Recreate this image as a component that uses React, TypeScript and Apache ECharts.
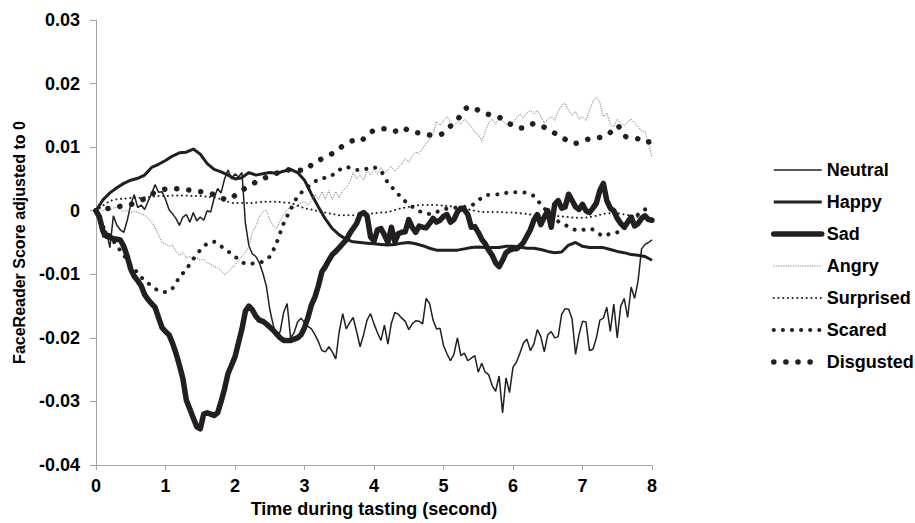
import React, { useEffect, useRef } from 'react';
import * as echarts from 'echarts';

const seriesNames = ['Neutral', 'Happy', 'Sad', 'Angry', 'Surprised', 'Scared', 'Disgusted'];

// sampling grids (seconds)
const fineTimes = Array.from({ length: 161 }, (_, i) => +(i * 0.05).toFixed(2));
const coarseTimes = Array.from({ length: 81 }, (_, i) => +(i * 0.1).toFixed(1));

const neutral = [
  0, -0.0015, -0.0042, -0.0032, -0.0058, -0.0008, -0.0023, -0.0030, -0.0034, -0.0015,
  0.0010, 0.0025, 0.0005, 0.0009, 0.0002, 0.0015, 0.0027, 0.0041, 0.0029, 0.0030,
  0.0018, 0.0002, -0.0005, -0.0012, -0.0023, -0.0010, -0.0006, -0.0018, -0.0003, -0.0016,
  -0.0010, -0.0015, 0.0000, -0.0002, 0.0020, 0.0035, 0.0028, 0.0050, 0.0064, 0.0050,
  0.0058, 0.0053, 0.0060, -0.0020, -0.0055, -0.0068, -0.0072, -0.0082, -0.0098, -0.0118,
  -0.0155, -0.0180, -0.0198, -0.0190, -0.0160, -0.0146, -0.0200, -0.0192, -0.0175, -0.0169,
  -0.0176, -0.0182, -0.0186, -0.0195, -0.0206, -0.0220, -0.0222, -0.0214, -0.0222, -0.0233,
  -0.0190, -0.0162, -0.0186, -0.0176, -0.0168, -0.0190, -0.0214, -0.0195, -0.0172, -0.0162,
  -0.0178, -0.0192, -0.0204, -0.0180, -0.0210, -0.0177, -0.0160, -0.0163, -0.0169, -0.0174,
  -0.0187, -0.0178, -0.0173, -0.0174, -0.0178, -0.0138, -0.0146, -0.0172, -0.0186, -0.0185,
  -0.0212, -0.0225, -0.0236, -0.0226, -0.0200, -0.0228, -0.0224, -0.0236, -0.0232, -0.0228,
  -0.0254, -0.0240, -0.0254, -0.0258, -0.0275, -0.0284, -0.0260, -0.0318, -0.0263, -0.0286,
  -0.0246, -0.0238, -0.0224, -0.0208, -0.0202, -0.0220, -0.0210, -0.0187, -0.0198, -0.0222,
  -0.0195, -0.0190, -0.0200, -0.0198, -0.0163, -0.0154, -0.0155, -0.0170, -0.0226, -0.0195,
  -0.0174, -0.0175, -0.0220, -0.0218, -0.0200, -0.0172, -0.0169, -0.0152, -0.0190, -0.0147,
  -0.0200, -0.0150, -0.0138, -0.0168, -0.0120, -0.0138, -0.0110, -0.0060, -0.0053, -0.0050,
  -0.0046,
];

const sad = [
  0, -0.0010, -0.0032, -0.0040, -0.0042, -0.0044, -0.0045, -0.0046, -0.0056, -0.0072,
  -0.0092, -0.0103, -0.0110, -0.0118, -0.0132, -0.0140, -0.0146, -0.0152, -0.0168, -0.0184,
  -0.0190, -0.0195, -0.0208, -0.0224, -0.0243, -0.0264, -0.0298, -0.0312, -0.0326, -0.0340,
  -0.0343, -0.0320, -0.0318, -0.0320, -0.0322, -0.0318, -0.0300, -0.0280, -0.0256, -0.0243,
  -0.0230, -0.0208, -0.0186, -0.0158, -0.0150, -0.0156, -0.0166, -0.0172, -0.0174, -0.0178,
  -0.0183, -0.0188, -0.0194, -0.0200, -0.0204, -0.0204, -0.0204, -0.0202, -0.0200, -0.0195,
  -0.0184, -0.0168, -0.0148, -0.0136, -0.0118, -0.0096, -0.0088, -0.0078, -0.0069, -0.0064,
  -0.0058, -0.0052, -0.0046, -0.0036, -0.0028, -0.0020, -0.0006, -0.0003, -0.0008, -0.0041,
  -0.0048, -0.0030, -0.0028, -0.0038, -0.0050, -0.0026, -0.0049, -0.0036, -0.0034, -0.0033,
  -0.0014, -0.0026, -0.0034, -0.0024, -0.0026, -0.0027, -0.0020, -0.0012, -0.0018, -0.0015,
  -0.0009, -0.0006, -0.0018, -0.0014, -0.0002, 0.0004, 0.0002, -0.0006, -0.0026, -0.0025,
  -0.0034, -0.0045, -0.0052, -0.0062, -0.0070, -0.0082, -0.0088, -0.0078, -0.0066, -0.0062,
  -0.0060, -0.0060, -0.0056, -0.0050, -0.0040, -0.0030, -0.0015, -0.0006, -0.0022, -0.0010,
  0.0000, -0.0026, 0.0010, 0.0016, 0.0004, 0.0006, 0.0026, 0.0016, 0.0006, 0.0002,
  0.0010, 0.0000, -0.0003, 0.0004, 0.0012, 0.0032, 0.0043, 0.0016, 0.0004, 0.0000,
  -0.0012, -0.0020, -0.0026, -0.0018, -0.0010, -0.0024, -0.0020, -0.0012, -0.0008, -0.0014,
  -0.0015,
];

const angry = [
  0, 0.0002, 0, 0.0003, 0, 0.0004, 0.0006, 0.0002, -0.0002, 0.0001,
  -0.0003, -0.0001, -0.0003, -0.0005, -0.0007, -0.0012, -0.0018, -0.0026, -0.0038, -0.0050,
  -0.0052, -0.0056, -0.0054, -0.0064, -0.0070, -0.0066, -0.0074, -0.0072, -0.0076, -0.0074,
  -0.0078, -0.0076, -0.0082, -0.0084, -0.0088, -0.0090, -0.0094, -0.0101, -0.0096, -0.0090,
  -0.0086, -0.0078, -0.0072, -0.0066, -0.0056, -0.0034, -0.0024, -0.0010, -0.0002, 0.0001,
  -0.0014, -0.0024, -0.0028, -0.0016, -0.0006, 0.0002, 0.0006, 0.0004, 0.0009, 0.0012,
  0.0014, 0.0008, 0.0016, 0.0026, 0.0018, 0.0030, 0.0018, 0.0032, 0.0018, 0.0030,
  0.0020, 0.0032, 0.0036, 0.0044, 0.0060, 0.0050, 0.0056, 0.0048, 0.0064, 0.0056,
  0.0066, 0.0058, 0.0068, 0.0060, 0.0064, 0.0070, 0.0062, 0.0068, 0.0074, 0.0082,
  0.0076, 0.0086, 0.0092, 0.0090, 0.0098, 0.0106, 0.0112, 0.0120, 0.0140, 0.0134,
  0.0142, 0.0148, 0.0140, 0.0134, 0.0140, 0.0136, 0.0144, 0.0138, 0.0132, 0.0124,
  0.0120, 0.0110, 0.0124, 0.0138, 0.0144, 0.0136, 0.0146, 0.0142, 0.0136, 0.0140,
  0.0138, 0.0146, 0.0152, 0.0146, 0.0154, 0.0158, 0.0152, 0.0158, 0.0148, 0.0138,
  0.0144, 0.0148, 0.0142, 0.0156, 0.0166, 0.0169, 0.0158, 0.0150, 0.0156, 0.0144,
  0.0148, 0.0142, 0.0158, 0.0172, 0.0179, 0.0170, 0.0148, 0.0154, 0.0136, 0.0132,
  0.0144, 0.0138, 0.0134, 0.0140, 0.0144, 0.0138, 0.0132, 0.0126, 0.0124, 0.0106,
  0.0084,
];

const happy = [
  0, 0.0017, 0.0028, 0.0036, 0.0043, 0.0048, 0.0051, 0.0056, 0.0068, 0.0073,
  0.0079, 0.0086, 0.0091, 0.0092, 0.0097, 0.0089, 0.0074, 0.0065, 0.0061, 0.0056,
  0.0050, 0.0052, 0.0060, 0.0056, 0.0058, 0.0060, 0.0059, 0.0062, 0.0065, 0.0060,
  0.0048, 0.0026, 0.0006, -0.0013, -0.0028, -0.0038, -0.0045, -0.0049, -0.0050, -0.0051,
  -0.0052, -0.0053, -0.0054, -0.0053, -0.0051, -0.0050, -0.0052, -0.0055, -0.0059, -0.0062,
  -0.0062, -0.0062, -0.0062, -0.0060, -0.0058, -0.0057, -0.0058, -0.0058, -0.0058, -0.0056,
  -0.0056, -0.0057, -0.0059, -0.0059, -0.0061, -0.0064, -0.0066, -0.0065, -0.0054, -0.0050,
  -0.0056, -0.0058, -0.0058, -0.0058, -0.0061, -0.0064, -0.0066, -0.0069, -0.0070, -0.0072,
  -0.0078,
];

const surprised = [
  0, 0.0008, 0.0015, 0.0018, 0.0019, 0.0020, 0.0020, 0.0021, 0.0022, 0.0023,
  0.0023, 0.0024, 0.0024, 0.0024, 0.0023, 0.0023, 0.0022, 0.0021, 0.0018, 0.0014,
  0.0012, 0.0012, 0.0012, 0.0013, 0.0014, 0.0014, 0.0014, 0.0013, 0.0012, 0.0008,
  0.0004, 0.0002, -0.0001, -0.0003, -0.0005, -0.0007, -0.0007, -0.0007, -0.0006, -0.0005,
  -0.0004, -0.0003, -0.0002, 0.0001, 0.0004, 0.0006, 0.0008, 0.0009, 0.0009, 0.0009,
  0.0008, 0.0007, 0.0006, 0.0004, 0.0001, -0.0001, -0.0002, -0.0002, -0.0002, -0.0003,
  -0.0003, -0.0004, -0.0005, -0.0007, -0.0007, -0.0007, -0.0008, -0.0009, -0.0010, -0.0011,
  -0.0011, -0.0010, -0.0008, -0.0005, -0.0004, -0.0004, -0.0006, -0.0008, -0.0010, -0.0011,
  -0.0012,
];

const scared = [
  0, -0.0025, -0.0040, -0.0055, -0.0070, -0.0085, -0.0098, -0.0110, -0.0118, -0.0126,
  -0.0128, -0.0122, -0.0105, -0.0092, -0.0076, -0.0062, -0.0052, -0.0049, -0.0056, -0.0064,
  -0.0072, -0.0081, -0.0084, -0.0082, -0.0080, -0.0072, -0.0050, -0.0020, 0.0002, 0.0022,
  0.0033, 0.0042, 0.0049, 0.0052, 0.0056, 0.0064, 0.0069, 0.0065, 0.0064, 0.0066,
  0.0068, 0.0062, 0.0044, 0.0032, 0.0020, 0.0010, 0.0003, -0.0003, -0.0005, -0.0002,
  0.0002, 0.0004, 0.0005, 0.0006, 0.0008, 0.0016, 0.0024, 0.0025, 0.0026, 0.0028,
  0.0029, 0.0029, 0.0028, 0.0023, 0.0010, -0.0002, -0.0013, -0.0020, -0.0025, -0.0030,
  -0.0030, -0.0028, -0.0033, -0.0040, -0.0036, -0.0034, -0.0028, -0.0016, -0.0006, 0.0002,
  0.0004,
];

const disgusted = [
  0, 0.0002, 0.0004, 0.0006, 0.0008, 0.0010, 0.0014, 0.0019, 0.0026, 0.0031,
  0.0034, 0.0035, 0.0034, 0.0033, 0.0032, 0.0030, 0.0029, 0.0025, 0.0020, 0.0017,
  0.0024, 0.0032, 0.0039, 0.0045, 0.0050, 0.0055, 0.0059, 0.0061, 0.0065, 0.0064,
  0.0063, 0.0072, 0.0079, 0.0084, 0.0090, 0.0098, 0.0105, 0.0110, 0.0109, 0.0120,
  0.0126, 0.0129, 0.0129, 0.0125, 0.0131, 0.0126, 0.0123, 0.0122, 0.0119, 0.0119,
  0.0122, 0.0133, 0.0143, 0.0159, 0.0164, 0.0158, 0.0153, 0.0150, 0.0147, 0.0140,
  0.0134, 0.0130, 0.0131, 0.0137, 0.0134, 0.0128, 0.0122, 0.0116, 0.0109, 0.0106,
  0.0110, 0.0113, 0.0115, 0.0116, 0.0123, 0.0134, 0.0118, 0.0115, 0.0113, 0.0107,
  0.0110,
];

const INK = '#231f20';
const FONT = '"Liberation Sans", Arial, Helvetica, sans-serif';

const pair = (times: number[], vals: number[]) => vals.map((v, i) => [times[i], v]);

const styles: Record<string, any> = {
  Neutral: { color: INK, width: 1.5, type: 'solid' },
  Happy: { color: INK, width: 3, type: 'solid' },
  Sad: { color: INK, width: 5.5, type: 'solid', join: 'round', cap: 'round' },
  Angry: { color: '#7d7d7d', width: 1, type: [1.2, 1.2] },
  Surprised: { color: INK, width: 2, type: [0.1, 4.6], cap: 'round' },
  Scared: { color: INK, width: 4, type: [0.1, 9], cap: 'round' },
  Disgusted: { color: INK, width: 5.5, type: [0.1, 12], cap: 'round' },
};

export default function App() {
  const ref = useRef<HTMLDivElement>(null);
  useEffect(() => {
    if (!ref.current) return;
    const chart = echarts.init(ref.current, undefined, { renderer: 'svg' });
    const dataMap: Record<string, number[][]> = {
      Neutral: pair(fineTimes, neutral),
      Happy: pair(coarseTimes, happy),
      Sad: pair(fineTimes, sad),
      Angry: pair(fineTimes, angry),
      Surprised: pair(coarseTimes, surprised),
      Scared: pair(coarseTimes, scared),
      Disgusted: pair(coarseTimes, disgusted),
    };
    const smoothMap: Record<string, boolean> = {
      Neutral: false, Happy: false, Sad: false, Angry: false,
      Surprised: true, Scared: true, Disgusted: true,
    };
    chart.setOption({
      animation: false,
      backgroundColor: '#ffffff',
      grid: { left: 96, top: 20, width: 556, height: 445, containLabel: false },
      xAxis: {
        type: 'value', min: 0, max: 8, interval: 1,
        name: 'Time during tasting (second)', nameLocation: 'middle', nameGap: 35,
        nameTextStyle: { fontFamily: FONT, fontWeight: 'bold', fontSize: 18, color: '#000' },
        axisLine: { onZero: false, lineStyle: { color: '#a6a6a6', width: 1 } },
        axisTick: { show: true, length: 5, lineStyle: { color: '#a6a6a6' } },
        axisLabel: { fontFamily: FONT, fontWeight: 'bold', fontSize: 18, color: '#000', margin: 12 },
        splitLine: { show: false },
      },
      yAxis: {
        type: 'value', min: -0.04, max: 0.03, interval: 0.01,
        name: 'FaceReader Score adjusted to 0', nameLocation: 'middle', nameGap: 69,
        nameTextStyle: { fontFamily: FONT, fontWeight: 'bold', fontSize: 16, color: '#000' },
        axisLine: { show: true, onZero: false, lineStyle: { color: '#a6a6a6', width: 1 } },
        axisTick: { show: true, length: 6, lineStyle: { color: '#a6a6a6' } },
        axisLabel: {
          fontFamily: FONT, fontWeight: 'bold', fontSize: 18, color: '#000', margin: 16,
          formatter: (v: number) => String(+v.toFixed(2)),
        },
        splitLine: { show: false },
      },
      legend: {
        orient: 'vertical', left: 766, top: 156,
        itemWidth: 48, itemHeight: 14, itemGap: 14,
        selectedMode: false,
        textStyle: { fontFamily: FONT, fontWeight: 'bold', fontSize: 18, color: '#000' },
        data: seriesNames.map((n) => ({
          name: n,
          lineStyle: { ...styles[n] },
          itemStyle: { color: styles[n].color, opacity: 0 },
        })),
      },
      series: seriesNames.map((n, idx) => ({
        name: n,
        type: 'line',
        data: dataMap[n],
        symbol: 'none',
        showSymbol: false,
        smooth: smoothMap[n] ? 0.3 : false,
        lineStyle: styles[n],
        itemStyle: { color: styles[n].color },
        color: styles[n].color,
        z: 2 + idx,
        silent: true,
      })),
    });
    return () => chart.dispose();
  }, []);
  return (
    <div
      ref={ref}
      style={{ position: 'fixed', left: 0, top: 0, width: 915, height: 523, background: '#fff' }}
    />
  );
}
